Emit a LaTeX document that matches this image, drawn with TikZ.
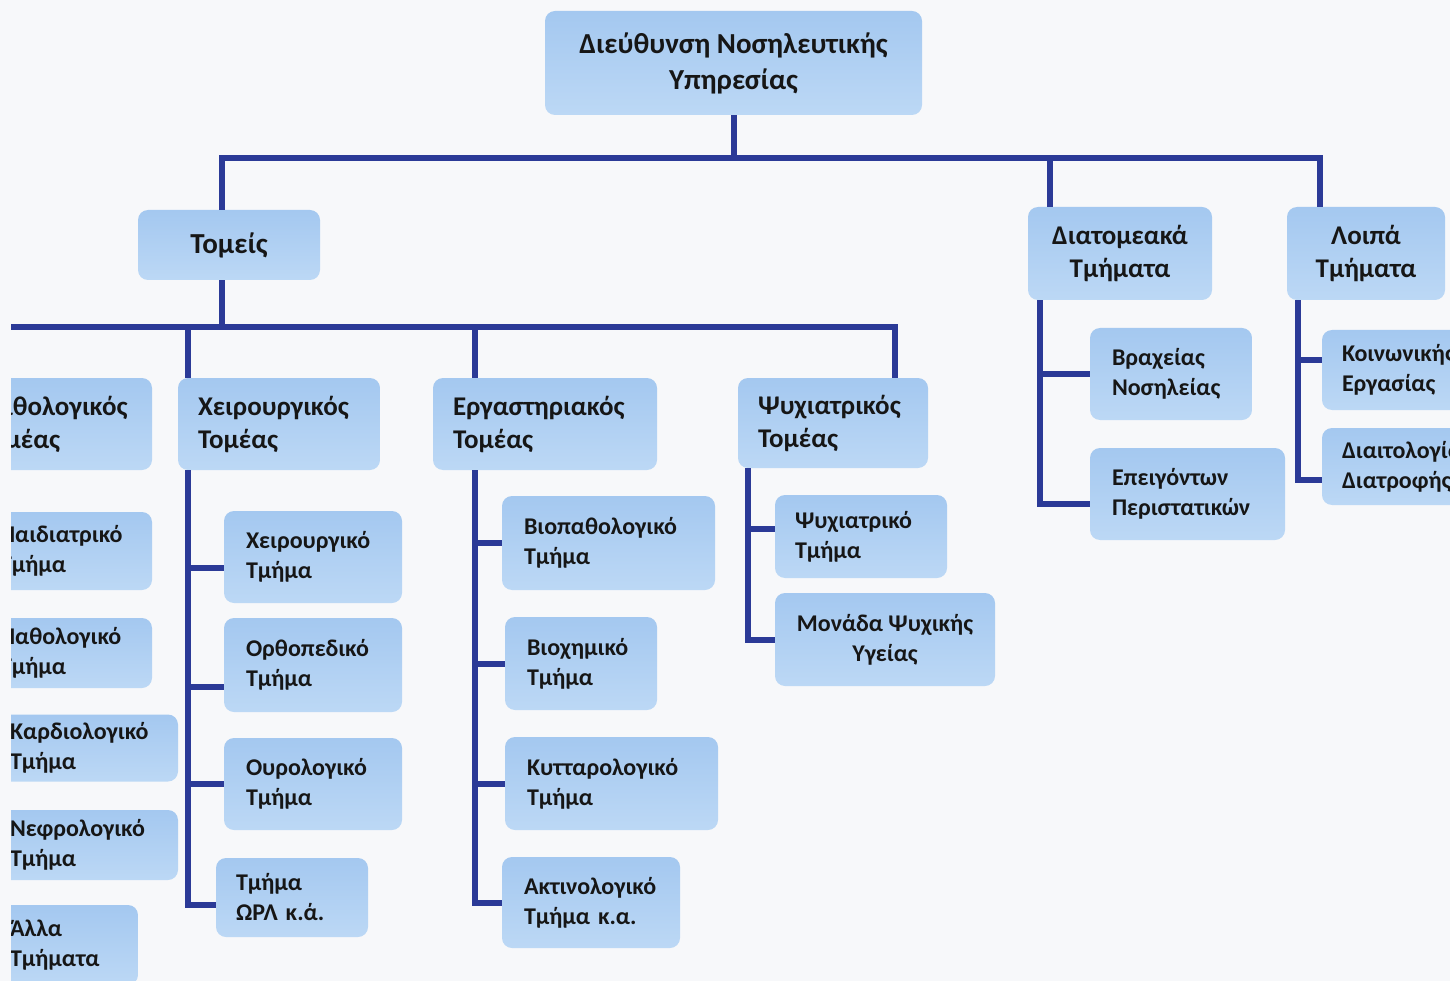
\documentclass[tikz,border=0pt]{standalone}
\usepackage{fontspec}
\setmainfont{Carlito}
\definecolor{boxtop}{HTML}{A4C8F0}
\definecolor{boxbot}{HTML}{BCD8F5}
\definecolor{navy}{HTML}{2B3A97}
\definecolor{paper}{HTML}{F7F8FA}
\definecolor{ink}{HTML}{161616}
\tikzset{
  box/.style={rectangle, rounded corners=10pt, top color=boxtop, bottom color=boxbot, draw=none, text=ink, inner ysep=0pt},
  cbox/.style={box, align=center},
  lbox/.style={box, align=left, inner xsep=22pt},
  ftop/.style={font=\bfseries\fontsize{29}{36}\selectfont},
  fsec/.style={font=\bfseries\fontsize{27}{33}\selectfont},
  fsub/.style={font=\bfseries\fontsize{24}{30}\selectfont},
  conn/.style={draw=navy, line width=6pt}
}
\begin{document}
\begin{tikzpicture}[x=1pt,y=-1pt]
\useasboundingbox (0,0) rectangle (1450,981);
\clip (0,0) rectangle (1450,981);
\fill[paper] (0,0) rectangle (1450,981);

% top levels
\node[cbox, ftop, minimum width=377, minimum height=104] (dir) at (733.5,63) {Διεύθυνση Νοσηλευτικής\\Υπηρεσίας};
\node[cbox, font=\bfseries\fontsize{29}{33}\selectfont, minimum width=182, minimum height=70] (tomeis) at (229,245) {Τομείς};
\node[cbox, fsec, minimum width=184, minimum height=93] (diat) at (1120,253.5) {Διατομεακά\\Τμήματα};
\node[cbox, fsec, minimum width=158, minimum height=93] (loipa) at (1366,253.5) {Λοιπά\\Τμήματα};

% sectors
\node[lbox, fsec, minimum width=202, minimum height=92, text width=162, inner xsep=20pt] (xeir) at (279,424) {Χειρουργικός\\Τομέας};
\node[lbox, fsec, minimum width=224, minimum height=92, text width=184, inner xsep=20pt] (erg) at (545,424) {Εργαστηριακός\\Τομέας};
\node[lbox, fsec, minimum width=190, minimum height=90, text width=150, inner xsep=20pt] (psy) at (833,423) {Ψυχιατρικός\\Τομέας};
\node[lbox, fsec, minimum width=186, minimum height=92, text width=158, inner xsep=14pt] (path) at (59,424) {Παθολογικός\\Τομέας};

% left column (cut)
\node[lbox, fsub, minimum width=174, minimum height=78, text width=130] (paid) at (65,551) {Παιδιατρικό\\Τμήμα};
\node[lbox, fsub, minimum width=174, minimum height=70, text width=130] (patht) at (65,653) {Παθολογικό\\Τμήμα};
\node[lbox, fsub, minimum width=190, minimum height=67, text width=146] (kard) at (83,748) {Καρδιολογικό\\Τμήμα};
\node[lbox, fsub, minimum width=190, minimum height=70, text width=146] (nefr) at (83,845) {Νεφρολογικό\\Τμήμα};
\node[lbox, fsub, minimum width=150, minimum height=80, text width=106] (alla) at (63,945) {Άλλα\\Τμήματα};

% surgical children
\node[lbox, fsub, minimum width=178, minimum height=92, text width=134] (xt) at (313,557) {Χειρουργικό\\Τμήμα};
\node[lbox, fsub, minimum width=178, minimum height=94, text width=134] (orth) at (313,665) {Ορθοπεδικό\\Τμήμα};
\node[lbox, fsub, minimum width=178, minimum height=92, text width=134] (our) at (313,784) {Ουρολογικό\\Τμήμα};
\node[lbox, fsub, minimum width=152, minimum height=79, text width=112, inner xsep=20pt] (orl) at (292,897.5) {Τμήμα\\ΩΡΛ κ.ά.};

% laboratory children
\node[lbox, fsub, minimum width=213, minimum height=94, text width=169] (biop) at (608.5,543) {Βιοπαθολογικό\\Τμήμα};
\node[lbox, fsub, minimum width=152, minimum height=93, text width=108] (bioch) at (581,663.5) {Βιοχημικό\\Τμήμα};
\node[lbox, fsub, minimum width=213, minimum height=93, text width=169] (kyt) at (611.5,783.5) {Κυτταρολογικό\\Τμήμα};
\node[lbox, fsub, minimum width=178, minimum height=91, text width=134] (akt) at (591,902.5) {Ακτινολογικό\\Τμήμα κ.α.};

% psychiatric children
\node[lbox, fsub, minimum width=172, minimum height=83, text width=132, inner xsep=20pt] (psyt) at (861,536.5) {Ψυχιατρικό\\Τμήμα};
\node[cbox, fsub, minimum width=220, minimum height=93] (mon) at (885,639.5) {Μονάδα Ψυχικής\\Υγείας};

% inter-sector children
\node[lbox, fsub, minimum width=162, minimum height=92, text width=118] (brax) at (1171,374) {Βραχείας\\Νοσηλείας};
\node[lbox, fsub, minimum width=195, minimum height=92, text width=151] (epeig) at (1187.5,494) {Επειγόντων\\Περιστατικών};

% other children (cut at right)
\node[lbox, fsub, minimum width=170, minimum height=80, text width=130, inner xsep=20pt] (koin) at (1407,370) {Κοινωνικής\\Εργασίας};
\node[lbox, fsub, minimum width=170, minimum height=77, text width=130, inner xsep=20pt] (diait) at (1407,466.5) {Διαιτολογίας\\Διατροφής};

% connector coordinates
\coordinate (hL) at (222,158);
\coordinate (hR) at (1320,158);
\coordinate (hD) at (1050,158);
\coordinate (sL) at (-10,327);
\coordinate (sR) at (895,327);
\coordinate (sT) at (222,327);
\coordinate (sX) at (188,327);
\coordinate (sE) at (475,327);
\coordinate (sP) at (748,470);
\coordinate (sD) at (1040,300);
\coordinate (sO) at (1298,300);
\coordinate (xtS) at ([yshift=-11pt]xt.west);
\coordinate (orthS) at ([yshift=-22pt]orth.west);
\coordinate (orlS) at ([yshift=-7pt]orl.west);
\coordinate (psytS) at ([yshift=8pt]psyt.west);
\coordinate (epeigS) at ([yshift=-10pt]epeig.west);
\coordinate (koinS) at ([yshift=10pt]koin.west);
\coordinate (diaitS) at ([yshift=-13pt]diait.west);

% top connectors
\draw[conn] (dir.south) -- (dir.south |- hL);
\draw[conn] (hL |- tomeis.north) -- (hL) -- (hR) -- (hR |- loipa.north);
\draw[conn] (hD) -- (hD |- diat.north);

% sectors bar
\draw[conn] (sT |- tomeis.south) -- (sT);
\draw[conn] (sL) -- (sR) -- (sR |- psy.north);
\draw[conn] (sX) -- (sX |- xeir.north);
\draw[conn] (sE) -- (sE |- erg.north);

% surgical spine
\draw[conn] (sX |- xeir.south) |- (orlS);
\draw[conn] (sX |- xtS) -- (xtS);
\draw[conn] (sX |- orthS) -- (orthS);
\draw[conn] (sX |- our.west) -- (our.west);

% laboratory spine
\draw[conn] (sE |- erg.south) |- (akt.west);
\draw[conn] (sE |- biop.west) -- (biop.west);
\draw[conn] (sE |- bioch.west) -- (bioch.west);
\draw[conn] (sE |- kyt.west) -- (kyt.west);

% psychiatric spine
\draw[conn] (sP |- psy.south) |- (mon.west);
\draw[conn] (sP |- psytS) -- (psytS);

% inter-sector spine
\draw[conn] (sD |- diat.south) |- (epeigS);
\draw[conn] (sD |- brax.west) -- (brax.west);

% other spine
\draw[conn] (sO |- loipa.south) |- (diaitS);
\draw[conn] (sO |- koinS) -- (koinS);

% scan margin at the left
\fill[paper] (0,0) rectangle (11,981);
\end{tikzpicture}
\end{document}
